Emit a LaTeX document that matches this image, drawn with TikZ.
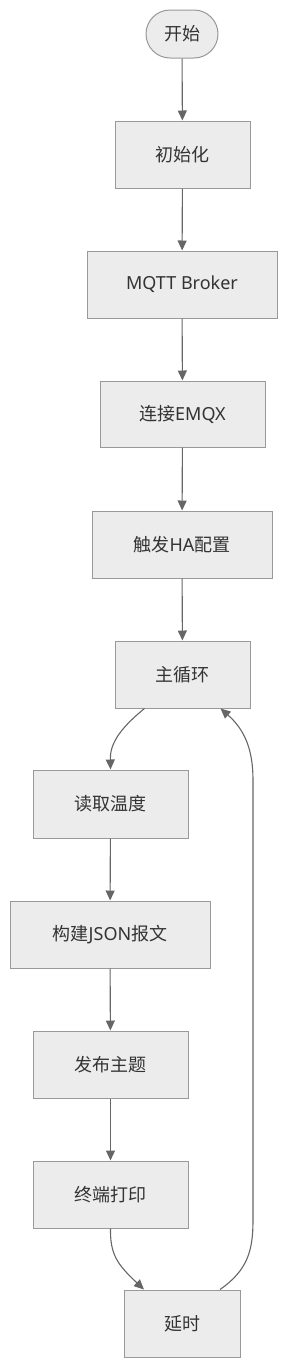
\documentclass[tikz,border=0pt]{standalone}
\usepackage{fontspec}
\setmainfont{Noto Sans}
\newfontfamily\cjk{Noto Sans CJK SC}
\usetikzlibrary{arrows.meta}
\definecolor{nodefill}{HTML}{ECECEC}
\definecolor{nodeline}{HTML}{999999}
\definecolor{edgecol}{HTML}{666666}
\definecolor{textcol}{HTML}{333333}
\begin{document}
\begin{tikzpicture}[x=1pt,y=-1pt,
  box/.style={draw=nodeline,fill=nodefill,line width=1pt,inner sep=0pt,text=textcol,font=\fontsize{18}{20}\selectfont},
  startbox/.style={box,rounded corners=24pt},
  edge/.style={draw=edgecol,line width=1.1pt,-{Triangle[length=10pt,width=9pt]}}]
\useasboundingbox (0,0) rectangle (287,1368);
\node[startbox,minimum width=72pt,minimum height=48pt] (s) at (182,34) {\cjk 开始};
\node[box,minimum width=135pt,minimum height=67pt] (init) at (182.5,154.5) {\cjk 初始化};
\node[box,minimum width=190pt,minimum height=67pt] (mqtt) at (182,284.5) {MQTT Broker};
\node[box,minimum width=165pt,minimum height=66pt] (conn) at (182.5,414) {{\cjk 连接}EMQX};
\node[box,minimum width=180pt,minimum height=67pt] (ha) at (182,544.5) {{\cjk 触发}HA{\cjk 配置}};
\node[box,minimum width=135pt,minimum height=67pt] (loop) at (182.5,674.5) {\cjk 主循环};
\node[box,minimum width=155pt,minimum height=68pt] (read) at (110.5,804) {\cjk 读取温度};
\node[box,minimum width=200pt,minimum height=67pt] (json) at (110,934.5) {{\cjk 构建}JSON{\cjk 报文}};
\node[box,minimum width=155pt,minimum height=67pt] (pub) at (110.5,1064.5) {\cjk 发布主题};
\node[box,minimum width=155pt,minimum height=67pt] (print) at (110.5,1194.5) {\cjk 终端打印};
\node[box,minimum width=116pt,minimum height=67pt] (delay) at (182,1323.5) {\cjk 延时};
\draw[edge] (s) -- (init);
\draw[edge] (init) -- (mqtt);
\draw[edge] (mqtt) -- (conn);
\draw[edge] (conn) -- (ha);
\draw[edge] (ha) -- (loop);
\draw[edge] ([xshift=-38pt]loop.south) .. controls (118,730) and (110,745) .. (read.north);
\draw[edge] (read) -- (json);
\draw[edge] (json) -- (pub);
\draw[edge] (pub) -- (print);
\draw[edge] (print.south) .. controls (110,1255) and (118,1265) .. ([xshift=-38pt]delay.north);
\draw[edge] ([xshift=38pt]delay.north) .. controls (248,1270) and (253,1250) .. (253,1220)
  -- (253,780) .. controls (253,750) and (245,730) .. ([xshift=38pt]loop.south);
\end{tikzpicture}
\end{document}
